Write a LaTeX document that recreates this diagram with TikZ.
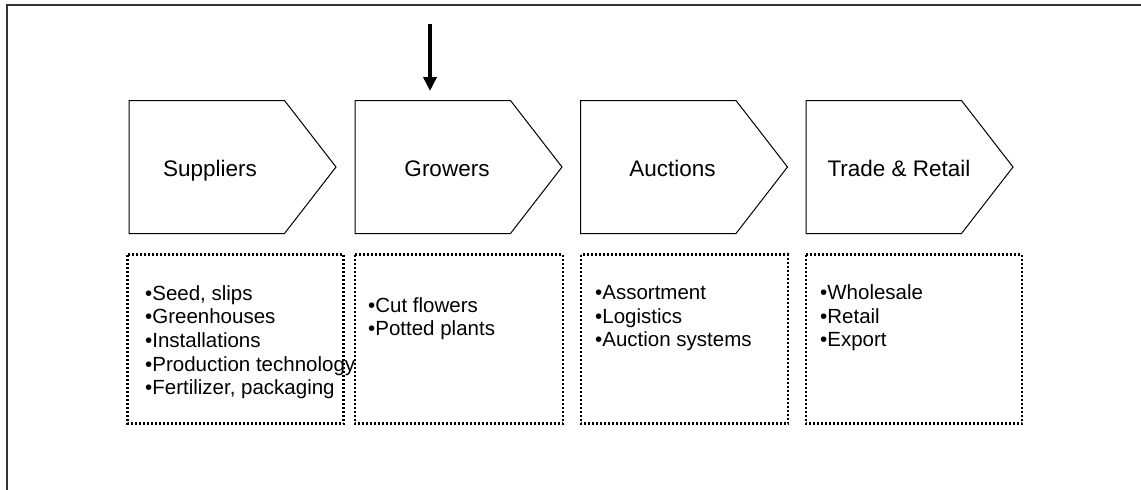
\documentclass[tikz,border=0pt]{standalone}
\usepackage{fontspec}
\setmainfont{Liberation Sans}
\usetikzlibrary{arrows.meta}
\definecolor{framegray}{HTML}{333333}
\begin{document}
\begin{tikzpicture}[x=1pt,y=-1pt,
  frameline/.style={draw=framegray,line width=2pt},
  chevron/.style={draw=black,line width=1pt,line join=miter},
  stagelabel/.style={anchor=base,inner sep=0pt,font=\fontsize{22.5}{27}\selectfont},
  detailbox/.style={draw=black,line width=2.2pt,dash pattern=on 2pt off 2pt},
  item/.style={anchor=base west,inner sep=0pt,font=\fontsize{20.5}{24}\selectfont},
  inflow/.style={line width=4.5pt,-{Triangle[width=13pt,length=14pt]}}]
\useasboundingbox (0,0) rectangle (1141,490);

% open frame: only the top and left edges are drawn
\coordinate (fbl) at (7,495);
\coordinate (ftl) at (7,5);
\coordinate (ftr) at (1146,5);
\draw[frameline] (fbl) -- (ftl) -- (ftr);

% value-chain chevrons (left edge x, label centre x, name, text)
\foreach \x/\lx/\nm/\txt in {129/210/sup/Suppliers,355/447/gro/Growers,580.5/672.5/auc/Auctions,806/899/trd/Trade \& Retail}{
  \draw[chevron] (\x,100.5) -- (\x+155.5,100.5) -- (\x+207,167) -- (\x+155.5,233.5) -- (\x,233.5) -- cycle;
  \node[stagelabel] (\nm) at (\lx,176.5) {\txt};
}

% dotted detail boxes
\draw[detailbox] (127.5,254.5) rectangle (343.5,423.5);
\draw[detailbox] (355,254.5) rectangle (563,423.5);
\draw[detailbox] (581,254.5) rectangle (788,423.5);
\draw[detailbox] (806,254.5) rectangle (1022,423.5);

% bullet items
\foreach \t [count=\i] in {{Seed, slips},Greenhouses,Installations,Production technology,{Fertilizer, packaging}}
  \node[item] (supitem\i) at (145,300+23.7*\i-23.7) {•\t};
\foreach \t [count=\i] in {Cut flowers,Potted plants}
  \node[item] (groitem\i) at (368,312+23.7*\i-23.7) {•\t};
\foreach \t [count=\i] in {Assortment,Logistics,Auction systems}
  \node[item] (aucitem\i) at (595,299.5+23.7*\i-23.7) {•\t};
\foreach \t [count=\i] in {Wholesale,Retail,Export}
  \node[item] (trditem\i) at (820,299.5+23.7*\i-23.7) {•\t};

% entry arrow into the growers stage
\coordinate (arrtop) at (430,24);
\coordinate (arrtip) at (430,91);
\draw[inflow] (arrtop) -- (arrtip);
\end{tikzpicture}
\end{document}
